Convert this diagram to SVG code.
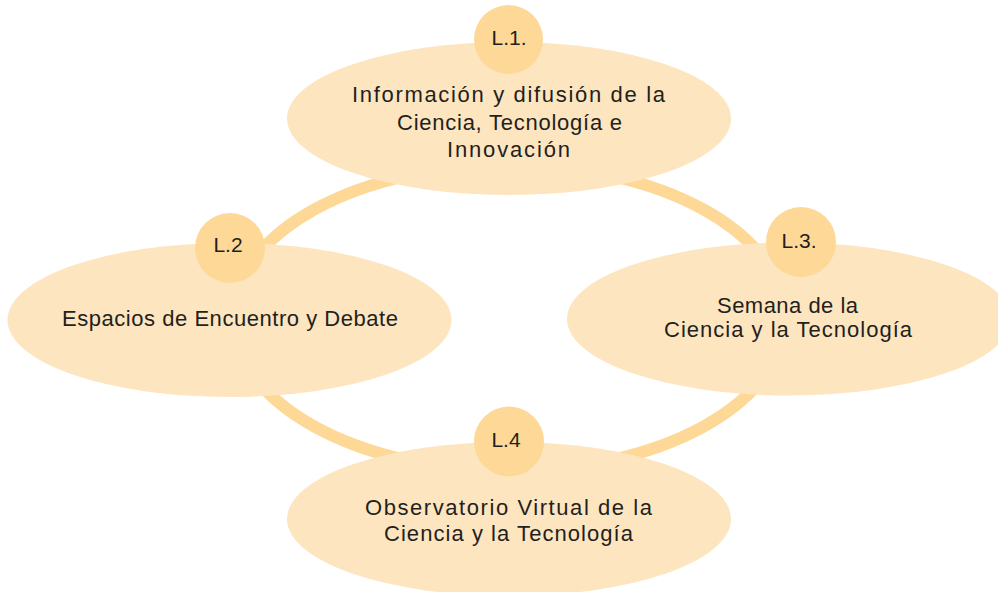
<svg xmlns="http://www.w3.org/2000/svg" width="998" height="592" viewBox="0 0 998 592">
<style>
.ring{fill:none;stroke:#FDD897;stroke-width:12}
.oval{fill:#FDE5BF}
.badge{fill:#FDD897}
text{font-family:"Liberation Sans","Open Sans",Arial,sans-serif;font-size:22px;fill:#231F20;text-anchor:middle}
text.lbl{font-size:21px}
</style>
<rect width="998" height="592" fill="#FFFFFF"/>
<g id="connectors">
<ellipse class="ring" cx="509" cy="318" rx="276" ry="153"/>
</g>
<g id="node-l1">
<ellipse class="oval" cx="509" cy="118.5" rx="222" ry="76.5"/>
<circle class="badge" cx="508.5" cy="39.5" r="34.5"/>
<text class="lbl" x="509" y="45">L.1.</text>
<text x="508.5" y="102" textLength="313" lengthAdjust="spacing">Información y difusión de la</text>
<text x="509.5" y="130" textLength="225" lengthAdjust="spacing">Ciencia, Tecnología e</text>
<text x="508.5" y="157" textLength="123" lengthAdjust="spacing">Innovación</text>
</g>
<g id="node-l2">
<ellipse class="oval" cx="229.5" cy="320" rx="222" ry="77"/>
<circle class="badge" cx="230" cy="248" r="35"/>
<text class="lbl" x="228" y="252">L.2</text>
<text x="230" y="326" textLength="336" lengthAdjust="spacing">Espacios de Encuentro y Debate</text>
</g>
<g id="node-l3">
<ellipse class="oval" cx="789" cy="319" rx="222" ry="76.5"/>
<circle class="badge" cx="801" cy="242" r="35"/>
<text class="lbl" x="799" y="248">L.3.</text>
<text x="787.5" y="313" textLength="141" lengthAdjust="spacing">Semana de la</text>
<text x="788" y="337" textLength="248" lengthAdjust="spacing">Ciencia y la Tecnología</text>
</g>
<g id="node-l4">
<ellipse class="oval" cx="509" cy="519" rx="222" ry="77"/>
<circle class="badge" cx="509" cy="441.5" r="35"/>
<text class="lbl" x="506" y="447">L.4</text>
<text x="508.5" y="515" textLength="287" lengthAdjust="spacing">Observatorio Virtual de la</text>
<text x="508.5" y="541" textLength="249" lengthAdjust="spacing">Ciencia y la Tecnología</text>
</g>
</svg>
